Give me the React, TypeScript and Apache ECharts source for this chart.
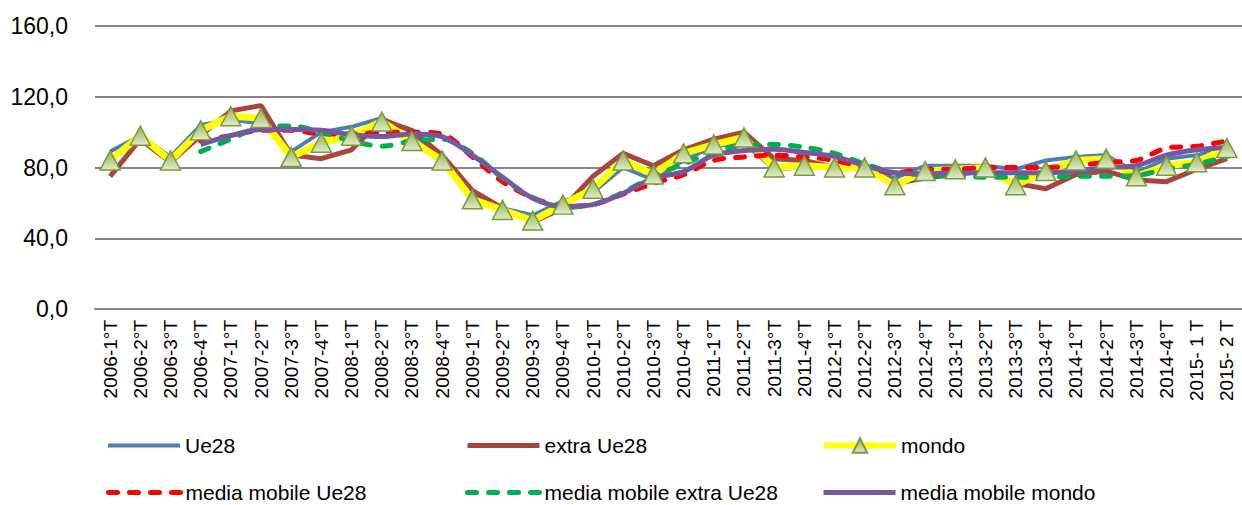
import React, { useEffect, useRef } from "react";
import * as echarts from "echarts";

const categories = [
  "2006-1°T", "2006-2°T", "2006-3°T", "2006-4°T",
  "2007-1°T", "2007-2°T", "2007-3°T", "2007-4°T",
  "2008-1°T", "2008-2°T", "2008-3°T", "2008-4°T",
  "2009-1°T", "2009-2°T", "2009-3°T", "2009-4°T",
  "2010-1°T", "2010-2°T", "2010-3°T", "2010-4°T",
  "2011-1°T", "2011-2°T", "2011-3°T", "2011-4°T",
  "2012-1°T", "2012-2°T", "2012-3°T", "2012-4°T",
  "2013-1°T", "2013-2°T", "2013-3°T", "2013-4°T",
  "2014-1°T", "2014-2°T", "2014-3°T", "2014-4°T",
  "2015- 1 T", "2015- 2 T",
];

const ue28 = [89, 98, 86, 104, 107, 105, 89, 100, 103, 108, 100, 85, 64, 57, 53, 61, 66, 80, 73, 84, 92, 94, 79, 80, 80, 79, 74, 81, 81, 81, 79, 84, 86, 87, 77, 85, 87, 91];
const extraUe28 = [75, 96, 83, 98, 112, 115, 87, 85, 90, 107, 101, 87, 67, 57, 49, 57, 75, 88, 81, 90, 96, 100, 85, 84, 80, 79, 71, 74, 76, 78, 71, 68, 76, 78, 73, 72, 79, 85];
const mondo = [84, 98, 84, 101, 109, 108, 86, 94, 98, 106, 95, 84, 62, 56, 50, 59, 68, 84, 76, 88, 93, 97, 80, 81, 80, 80, 70, 78, 79, 80, 70, 78, 84, 85, 75, 81, 83, 91];
const mmUe28 = [null, null, null, 95, 98, 101, 101, 99, 99, 100, 100, 99, 86, 72, 63, 58, 59, 65, 71, 76, 84, 86, 87, 86, 84, 80, 77, 79, 79, 80, 80, 80, 81, 83, 84, 91, 92, 95];
const mmExtraUe28 = [null, null, null, 89, 96, 103, 103.5, 100, 95, 92, 95, 96, 88, 74, 63, 57.5, 59, 66, 75, 82, 89, 92.5, 93, 91.5, 88, 82, 77, 76, 75, 74.5, 74.5, 74.5, 75, 75, 75.5, 79, 82, 86];
const mmMondo = [null, null, null, 93, 98, 101.5, 101.5, 101, 98.5, 97.5, 99, 97.5, 87, 74.6, 62.6, 58, 59, 65.4, 74, 77.7, 87, 89.6, 90.3, 88.5, 86.2, 81, 77, 76.4, 77, 77, 77, 77, 78, 80, 81, 87, 90, 91.5];

const yMin = 0;
const yMax = 160;
const yInterval = 40;

const FONT = "'Liberation Sans', Arial, sans-serif";

export default function App() {
  const ref = useRef<HTMLDivElement>(null);

  useEffect(() => {
    if (!ref.current) return;
    const chart = echarts.init(ref.current, null, { renderer: "svg" });

    const triFill = {
      type: "linear",
      x: 0, y: 0, x2: 0, y2: 1,
      colorStops: [
        { offset: 0, color: "#8FB04B" },
        { offset: 1, color: "#E2ECCD" },
      ],
    };

    const legendItem = (
      name: string,
      left: number,
      top: number,
      lineWidth: number,
      hideSymbol: boolean
    ) => ({
      orient: "horizontal",
      left,
      top,
      padding: 0,
      itemWidth: 72,
      itemHeight: 18,
      itemGap: 0,
      textStyle: { fontSize: 21, color: "#000", fontFamily: FONT },
      data: [
        {
          name,
          lineStyle: { width: lineWidth },
          ...(hideSymbol ? { itemStyle: { opacity: 0 } } : {}),
        },
      ],
    });

    chart.setOption({
      animation: false,
      backgroundColor: "#fff",
      grid: { left: 95, right: -5, top: 26, bottom: 196, containLabel: false },
      legend: [
        legendItem("Ue28", 106, 435, 4, true),
        legendItem("extra Ue28", 465, 435, 5, true),
        legendItem("mondo", 821, 435, 6, false),
        legendItem("media mobile Ue28", 106, 482, 5, true),
        legendItem("media mobile extra Ue28", 465, 482, 5, true),
        legendItem("media mobile mondo", 821, 482, 5, true),
      ],
      xAxis: {
        type: "category",
        data: categories,
        boundaryGap: true,
        axisLine: { show: true, lineStyle: { color: "#868686", width: 2 } },
        axisTick: { show: false },
        axisLabel: {
          rotate: 90,
          interval: 0,
          fontSize: 19,
          color: "#000",
          fontFamily: FONT,
          margin: 11,
        },
      },
      yAxis: {
        type: "value",
        min: yMin,
        max: yMax,
        interval: yInterval,
        axisLine: { show: false },
        axisTick: { show: false },
        splitLine: { lineStyle: { color: "#868686", width: 2 } },
        axisLabel: {
          fontSize: 23,
          color: "#000",
          fontFamily: FONT,
          margin: 27,
          formatter: (v: number) => v.toFixed(1).replace(".", ","),
        },
      },
      series: [
        {
          name: "Ue28",
          type: "line",
          data: ue28,
          symbol: "circle",
          showSymbol: false,
          lineStyle: { color: "#4A7EBB", width: 4 },
          itemStyle: { color: "#4A7EBB" },
        },
        {
          name: "extra Ue28",
          type: "line",
          data: extraUe28,
          symbol: "circle",
          showSymbol: false,
          lineStyle: { color: "#A9443F", width: 5 },
          itemStyle: { color: "#A9443F" },
        },
        {
          name: "mondo",
          type: "line",
          data: mondo,
          symbol: "triangle",
          symbolSize: [20, 19],
          showSymbol: true,
          lineStyle: { color: "#FFFF00", width: 7 },
          itemStyle: { color: triFill, borderColor: "#7A9A3E", borderWidth: 1.5 },
        },
        {
          name: "media mobile Ue28",
          type: "line",
          data: mmUe28,
          symbol: "circle",
          showSymbol: false,
          smooth: 0.3,
          lineStyle: { color: "#FF0000", width: 5, type: [9, 12], cap: "round" },
          itemStyle: { color: "#FF0000" },
        },
        {
          name: "media mobile extra Ue28",
          type: "line",
          data: mmExtraUe28,
          symbol: "circle",
          showSymbol: false,
          smooth: 0.3,
          lineStyle: { color: "#00B050", width: 5, type: [9, 12], cap: "round" },
          itemStyle: { color: "#00B050" },
        },
        {
          name: "media mobile mondo",
          type: "line",
          data: mmMondo,
          symbol: "circle",
          showSymbol: false,
          smooth: 0.3,
          lineStyle: { color: "#7559A0", width: 5 },
          itemStyle: { color: "#7559A0" },
        },
      ],
    });

    return () => chart.dispose();
  }, []);

  return (
    <div
      ref={ref}
      style={{ position: "absolute", left: 0, top: 0, width: 1242, height: 505 }}
    />
  );
}
